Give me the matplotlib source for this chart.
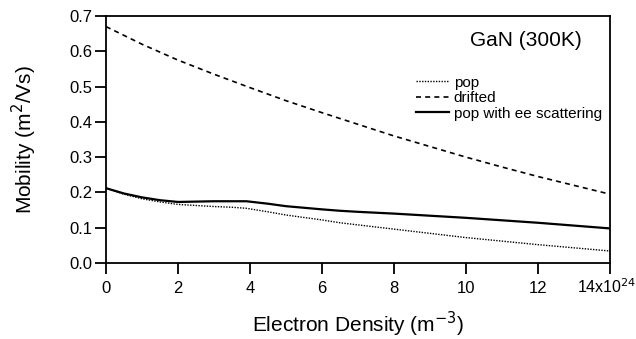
import matplotlib
matplotlib.use("Agg")
import matplotlib.pyplot as plt
import matplotlib.transforms as mtransforms
import numpy as np

plt.rcParams['font.family'] = ['Liberation Sans', 'DejaVu Sans']

density = [0, 0.5, 1, 1.5, 2, 2.5, 3, 3.5, 3.9, 4.5, 5, 6, 6.5, 7, 8, 9, 10, 11, 12, 13, 14]
pop = [0.212, 0.195, 0.182, 0.173, 0.166, 0.163, 0.16, 0.158, 0.155, 0.145, 0.136, 0.122, 0.114, 0.108, 0.096, 0.084, 0.072, 0.062, 0.052, 0.043, 0.034]
drifted_x = [0, 1, 2, 3, 4, 5, 6, 7, 8, 9, 10, 11, 12, 13, 14]
drifted = [0.67, 0.62, 0.575, 0.535, 0.497, 0.46, 0.426, 0.393, 0.36, 0.33, 0.3, 0.272, 0.245, 0.22, 0.195]
pop_ee = [0.212, 0.197, 0.186, 0.178, 0.173, 0.174, 0.175, 0.175, 0.175, 0.168, 0.161, 0.152, 0.148, 0.145, 0.14, 0.134, 0.128, 0.121, 0.114, 0.106, 0.098]

xticks = [0, 2, 4, 6, 8, 10, 12, 14]
xticklabels = ['0', '2', '4', '6', '8', '10', '12', '14x10$^{24}$']
yticks = [0.0, 0.1, 0.2, 0.3, 0.4, 0.5, 0.6, 0.7]
yticklabels = ['0.0', '0.1', '0.2', '0.3', '0.4', '0.5', '0.6', '0.7']

fig = plt.figure(figsize=(6.36, 3.39), dpi=100)
ax = fig.add_axes([106/636, 1-263/339, 504/636, 247/339])

ax.plot(density, pop, color='black', linestyle=(0, (1, 1)), linewidth=1.0, label='pop')
ax.plot(drifted_x, drifted, color='black', linestyle=(0, (3, 2.5)), linewidth=1.2, label='drifted')
ax.plot(density, pop_ee, color='black', linestyle='-', linewidth=1.6, label='pop with ee scattering')

ax.set_xlim(0, 14)
ax.set_ylim(0, 0.7)
ax.set_xticks(xticks)
ax.set_xticklabels(xticklabels, fontsize=12)
ax.set_yticks(yticks)
ax.set_yticklabels(yticklabels, fontsize=12)
ax.tick_params(direction='out', length=8, width=1.3)
ax.tick_params(axis='x', pad=13.6)
ax.tick_params(axis='y', pad=1.5)
for lab in ax.get_xticklabels():
    lab.set_va('baseline')
last = ax.xaxis.get_major_ticks()[-1].label1
last.set_fontsize(11.5)
last.set_transform(last.get_transform() +
                   mtransforms.ScaledTranslation(-3/100, 0, fig.dpi_scale_trans))
for s in ax.spines.values():
    s.set_linewidth(1.3)

ax.set_xlabel('Electron Density (m$^{-3}$)', fontsize=15)
ax.xaxis.label.set_va('baseline')
ax.xaxis.set_label_coords(0.5, (263-332)/247)
ax.set_ylabel('Mobility (m$^2$/Vs)', fontsize=15)
ax.yaxis.label.set_ha('center')
ax.yaxis.label.set_va('center')
ax.yaxis.set_label_coords((24-106)/504, 0.5)

ax.text((582-106)/504, (263-41)/247, 'GaN (300K)', transform=ax.transAxes,
        ha='right', va='center', fontsize=15)

leg = ax.legend(loc='upper left', bbox_to_anchor=((408-106)/504, (263-68)/247), frameon=False,
                fontsize=11, handlelength=2.2, handletextpad=0.3, labelspacing=0.1, borderpad=0)

fig.savefig('out.png', dpi=100)
